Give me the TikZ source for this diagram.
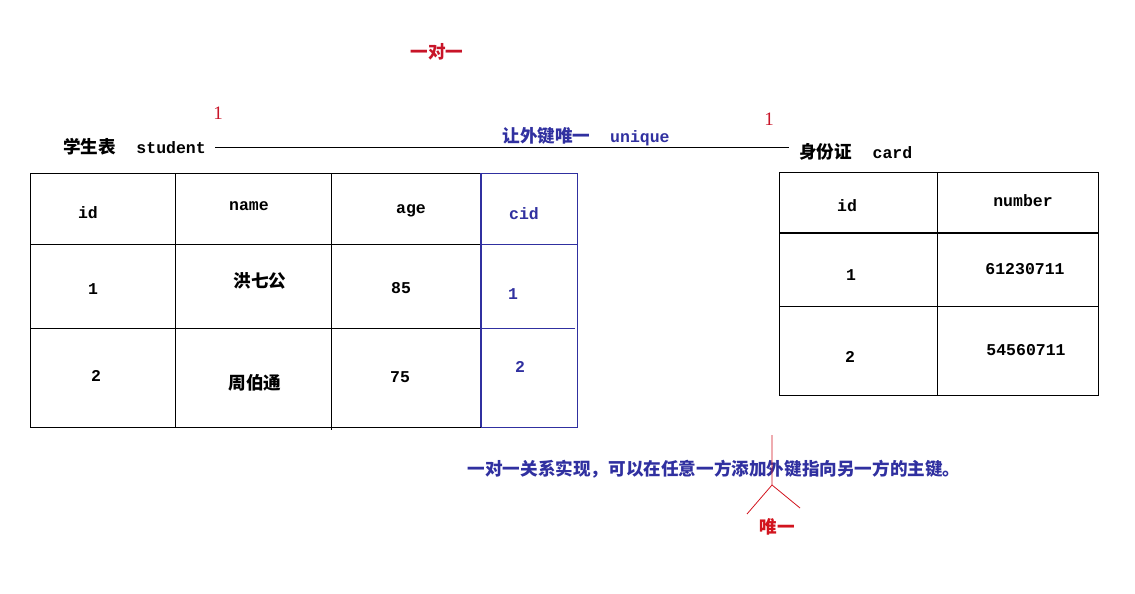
\documentclass[tikz,border=0pt]{standalone}
\usepackage{fontspec}
\setmainfont{Liberation Mono}
\newfontfamily\cjk{Noto Sans CJK SC}
\newfontfamily\numfont{Liberation Serif}
\definecolor{fkblue}{RGB}{48,48,160}
\definecolor{onered}{RGB}{200,20,40}
\definecolor{footred}{RGB}{210,20,30}
\newcommand\zhtext[1]{{\fontsize{17.6}{18}\selectfont\cjk #1}}

\begin{document}
\begin{tikzpicture}[x=1pt,y=-1pt]
    \tikzstyle{txt}=[inner sep=0pt, font=\fontsize{16.5}{17}\selectfont\bfseries]
    \tikzstyle{zh}=[inner sep=0pt, font=\fontsize{17.6}{18}\selectfont\cjk\bfseries]
    \tikzstyle{cardmark}=[inner sep=0pt, text=onered, font=\fontsize{19}{19}\selectfont\numfont]
    \tikzstyle{fk}=[draw=fkblue]

    \useasboundingbox (0,0) rectangle (1135,594);

    % student table
    \draw (30,173) rectangle (481,427);
    \draw (175,173) -- (175,427);
    \draw (331,173) -- (331,430);
    \draw (30,244) -- (481,244);
    \draw (30,328) -- (481,328);
    \draw[fk] (481,173) rectangle (577,427);
    \draw[fk] (481,244) -- (577,244);
    \draw[fk] (481,328) -- (575,328);
    \draw[fk, line width=1.6pt] (481,173) -- (481,427);

    % card table
    \draw (779,172) rectangle (1098,395);
    \draw (937,172) -- (937,395);
    \draw[line width=1.6pt] (779,233) -- (1098,233);
    \draw (779,306) -- (1098,306);

    \node[zh, text=onered] (title) at (437,52) {一对一};
    \node[cardmark] (one a) at (218,113) {1};
    \node[cardmark] (one b) at (769,119) {1};

    \node[txt, anchor=east] (stutitle) at (206,147) {\zhtext{学生表}\hspace{1.25em}student};
    \node[txt, anchor=west] (cardtitle) at (799,152) {\zhtext{身份证}\hspace{1.25em}card};
    \node[txt, text=fkblue] (uniq) at (586,137) {\zhtext{让外键唯一}\hspace{1.2em}unique};
    \draw (stutitle.east) ++(9,0) coordinate (link a) -- ([xshift=-10pt]link a -| cardtitle.west) coordinate (link b);

    \node[txt] (s id) at (88,213) {id};
    \node[txt] (s name) at (249,206) {name};
    \node[txt] (s age) at (411,211) {age};
    \node[txt, text=fkblue] (s cid) at (524,214) {cid};

    \node[txt] (s id1) at (93,289) {1};
    \node[zh] (s name1) at (260,281) {洪七公};
    \node[txt] (s age1) at (401,288) {85};
    \node[txt, text=fkblue] (s cid1) at (513,294) {1};

    \node[txt] (s id2) at (96,376) {2};
    \node[zh] (s name2) at (255,383) {周伯通};
    \node[txt] (s age2) at (400,377) {75};
    \node[txt, text=fkblue] (s cid2) at (520,367) {2};

    \node[txt] (c id) at (847,206) {id};
    \node[txt] (c num) at (1023,201) {number};
    \node[txt] (c id1) at (851,275) {1};
    \node[txt] (c num1) at (1025,269) {61230711};
    \node[txt] (c id2) at (850,357) {2};
    \node[txt] (c num2) at (1026,350) {54560711};

    \node[zh, text=fkblue] (note) at (714,469) {一对一关系实现，可以在任意一方添加外键指向另一方的主键。};

    % crow foot
    \coordinate (foot top) at (772,435);
    \coordinate (foot mid) at (772,485);
    \coordinate (foot l) at (747,514);
    \coordinate (foot r) at (800,508);
    \draw[footred, line width=0.8pt] (foot top) -- (foot mid) -- (foot l);
    \draw[footred, line width=0.8pt] (foot mid) -- (foot r);
    \node[zh, text=footred] (only) at (777,527) {唯一};
\end{tikzpicture}
\end{document}
